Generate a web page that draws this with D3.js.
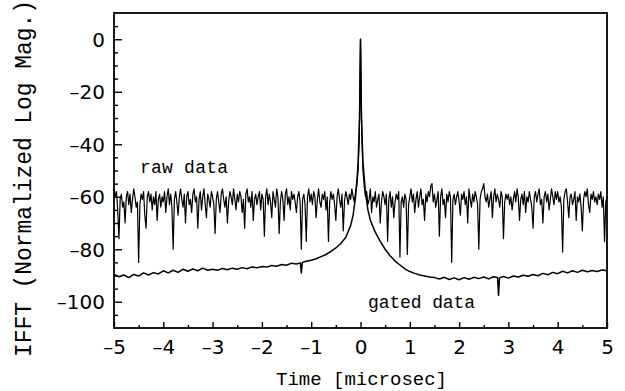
<!DOCTYPE html>
<html>
<head>
<meta charset="utf-8">
<script src="https://cdn.jsdelivr.net/npm/d3@7"></script>
<style>
  body { margin: 0; background: #fff; }
  svg { display: block; }
</style>
</head>
<body>
<div id="chart"></div>
<script>
// raw data: sampled every 0.025 microsec from -5 to 5 (one row per microsec)
const rawStart = -5;
const rawStep = 0.025;
const rawLevel = [
  -57, -60, -58, -65, -76, -61, -59, -64, -62, -70, -60, -58, -63, -59, -66, -61, -57, -60, -64, -62,
  -85, -63, -59, -61, -58, -67, -72, -60, -58, -62, -59, -65, -60, -63, -58, -69, -61, -59, -64, -60,
  -62, -58, -66, -60, -57, -63, -59, -64, -80, -61, -58, -62, -67, -60, -57, -61, -64, -59, -70, -60,
  -58, -63, -61, -66, -59, -57, -62, -60, -72, -61, -58, -65, -60, -57, -63, -68, -59, -61, -64, -58,
  -60, -63, -74, -61, -58, -62, -66, -59, -57, -61, -64, -60, -70, -62, -58, -60, -63, -57, -61, -65,
  -59, -62, -58, -60, -66, -61, -72, -59, -57, -62, -60, -64, -58, -69, -61, -59, -63, -60, -58, -65,
  -59, -61, -75, -60, -57, -63, -59, -62, -68, -58, -61, -64, -57, -60, -74, -62, -58, -61, -69, -59,
  -57, -63, -60, -65, -58, -61, -59, -62, -66, -60, -58, -62, -80, -61, -59, -63, -77, -60, -57, -62,
  -59, -63, -58, -60, -68, -61, -57, -62, -64, -59, -61, -58, -65, -60, -77, -62, -58, -61, -59, -63,
  -69, -60, -57, -61, -64, -59, -73, -62, -58, -60, -63, -59, -61, -57, -60, -62, -58, -56, -50, -38,
  0, -36, -50, -56, -60, -58, -63, -61, -57, -66, -60, -62, -58, -64, -61, -59, -70, -62, -58, -60,
  -63, -59, -77, -61, -58, -64, -60, -68, -62, -59, -61, -58, -83, -62, -60, -64, -59, -61, -82, -63,
  -60, -57, -62, -59, -66, -61, -58, -64, -60, -57, -63, -61, -69, -59, -62, -58, -60, -56, -55, -62,
  -59, -64, -61, -58, -75, -60, -57, -63, -61, -68, -59, -62, -58, -60, -85, -61, -59, -63, -60, -58,
  -62, -67, -59, -61, -58, -63, -60, -70, -57, -61, -64, -59, -62, -58, -60, -63, -80, -61, -58, -57,
  -55, -60, -62, -59, -64, -61, -58, -68, -60, -57, -62, -59, -61, -64, -58, -60, -76, -62, -59, -61,
  -59, -63, -60, -65, -61, -58, -62, -57, -60, -69, -61, -59, -63, -58, -66, -60, -62, -58, -61, -64,
  -72, -60, -58, -62, -59, -57, -63, -61, -70, -60, -58, -62, -59, -65, -61, -57, -60, -63, -58, -61,
  -58, -62, -60, -64, -81, -61, -58, -57, -62, -68, -60, -59, -63, -61, -58, -69, -60, -62, -59, -64,
  -73, -61, -58, -60, -57, -63, -66, -59, -61, -58, -62, -60, -63, -59, -61, -58, -64, -60, -77, -62,
  -60
];

// gated data
const gatedTime = [
  -5, -4.9, -4.8, -4.7, -4.6, -4.5, -4.4, -4.3, -4.2, -4.1,
  -4, -3.9, -3.8, -3.7, -3.6, -3.5, -3.4, -3.3, -3.2, -3.1,
  -3, -2.9, -2.8, -2.7, -2.6, -2.5, -2.4, -2.3, -2.2, -2.1,
  -2, -1.9, -1.8, -1.7, -1.6, -1.5, -1.4, -1.3, -1.22, -1.2, -1.18, -1.1,
  -1, -0.9, -0.8, -0.7, -0.6, -0.5, -0.4, -0.3, -0.2, -0.15, -0.1, -0.05, -0.02,
  0, 0.02, 0.05, 0.1, 0.15, 0.2, 0.3, 0.4, 0.5, 0.6, 0.7, 0.8, 0.9,
  1, 1.1, 1.2, 1.3, 1.4, 1.5, 1.6, 1.7, 1.8, 1.9,
  2, 2.1, 2.2, 2.3, 2.4, 2.5, 2.6, 2.7, 2.78, 2.8, 2.82, 2.9,
  3, 3.1, 3.2, 3.3, 3.4, 3.5, 3.6, 3.7, 3.8, 3.9,
  4, 4.1, 4.2, 4.3, 4.4, 4.5, 4.6, 4.7, 4.8, 4.9, 5
];
const gatedLevel = [
  -89.5, -90.5, -89.8, -90.8, -89.6, -90.2, -89.0, -89.8, -88.9, -89.4,
  -88.2, -89.0, -88.0, -88.8, -87.6, -88.4, -87.5, -88.2, -87.2, -88.0,
  -87.6, -88.0, -87.3, -87.8, -87.2, -87.6, -87.0, -87.4, -86.7, -87.1,
  -86.6, -86.8, -86.2, -86.5, -85.8, -86.1, -85.3, -85.6, -85.2, -89.0, -85.0, -84.6,
  -84.2, -83.6, -82.8, -82.0, -80.8, -79.5, -77.8, -75.5, -71, -67, -60, -48, -30,
  0, -30, -47, -58, -65, -69, -73.5, -77, -80, -82.5, -84.5, -86, -87.5,
  -88.5, -89.2, -89.8, -90.2, -90.6, -90.8, -91.3, -90.7, -91.5, -90.9,
  -91.6, -90.8, -91.4, -90.7, -91.2, -90.6, -91.3, -90.5, -90.8, -97.5, -90.9, -90.4,
  -91.0, -90.2, -90.6, -89.9, -90.3, -89.6, -90.1, -89.2, -89.7, -88.8,
  -89.3, -88.4, -89.0, -88.2, -88.8, -88.0, -88.6, -88.1, -88.5, -87.9, -88.2
];

const xTicks = [-5, -4, -3, -2, -1, 0, 1, 2, 3, 4, 5];
const yTicks = [0, -20, -40, -60, -80, -100];

const width = 625, height = 391;
const margin = {top: 13, right: 18, bottom: 63, left: 114};
const iw = width - margin.left - margin.right;
const ih = height - margin.top - margin.bottom;

const svg = d3.select('#chart').append('svg')
  .attr('width', width)
  .attr('height', height);

const g = svg.append('g')
  .attr('transform', `translate(${margin.left},${margin.top})`);

const x = d3.scaleLinear().domain([-5, 5]).range([0, iw]);
const y = d3.scaleLinear().domain([-110, 10]).range([ih, 0]);

const fmt = (d) => d < 0 ? '\u2013' + Math.abs(d) : String(d);

// minor ticks
const xAxisMinor = d3.axisBottom(x)
  .tickValues(d3.range(-4.5, 5, 1))
  .tickSizeInner(-3).tickSizeOuter(0).tickFormat('');
const yAxisMinor = d3.axisLeft(y)
  .tickValues(d3.range(-105, 10, 5).filter((d) => d % 20 != 0))
  .tickSizeInner(-4).tickSizeOuter(0).tickFormat('');

g.append('g')
  .attr('class', 'axis')
  .attr('transform', `translate(0,${ih})`)
  .call(xAxisMinor);
g.append('g')
  .attr('class', 'axis')
  .call(yAxisMinor);

// major ticks
g.append('g')
  .attr('class', 'axis major x')
  .attr('transform', `translate(0,${ih})`)
  .call(d3.axisBottom(x).tickValues(xTicks).tickSizeInner(-6).tickSizeOuter(0).tickPadding(12).tickFormat(fmt));
g.append('g')
  .attr('class', 'axis major y')
  .call(d3.axisLeft(y).tickValues(yTicks).tickSizeInner(-8).tickSizeOuter(0).tickPadding(9).tickFormat(fmt));

g.selectAll('.axis .domain').remove();
g.selectAll('.axis line')
  .attr('stroke', '#000')
  .attr('stroke-width', 1.4);
g.selectAll('.axis text')
  .attr('fill', '#000')
  .style('font-family', 'DejaVu Sans, sans-serif')
  .style('font-size', '20px');
g.selectAll('.axis.y text').attr('dy', '0.36em');
g.selectAll('.axis.x text').attr('dy', '0.72em');

// frame
g.append('rect')
  .attr('x', 0).attr('y', 0)
  .attr('width', iw).attr('height', ih)
  .attr('fill', 'none')
  .attr('stroke', '#000')
  .attr('stroke-width', 1.8);

// lines
const rawLine = d3.line()
  .x((d, i) => x(rawStart + i * rawStep))
  .y((d) => y(d));
const gatedLine = d3.line()
  .x((d, i) => x(gatedTime[i]))
  .y((d) => y(d));

g.append('path')
  .datum(rawLevel)
  .attr('d', rawLine)
  .attr('fill', 'none')
  .attr('stroke', '#000')
  .attr('stroke-width', 1.2)
  .attr('stroke-linejoin', 'round');

g.append('path')
  .datum(gatedLevel)
  .attr('d', gatedLine)
  .attr('fill', 'none')
  .attr('stroke', '#000')
  .attr('stroke-width', 1.5)
  .attr('stroke-linejoin', 'round');

// annotations
svg.append('text')
  .attr('x', 140).attr('y', 173)
  .text('raw data')
  .attr('textLength', 88)
  .style('font-family', 'Liberation Mono, monospace')
  .style('font-size', '18px');

svg.append('text')
  .attr('x', 368).attr('y', 308)
  .text('gated data')
  .attr('textLength', 107)
  .style('font-family', 'Liberation Mono, monospace')
  .style('font-size', '18px');

// axis titles
svg.append('text')
  .attr('x', 276).attr('y', 385)
  .text('Time [microsec]')
  .attr('textLength', 171)
  .style('font-family', 'Liberation Mono, monospace')
  .style('font-size', '19px');

svg.append('text')
  .attr('transform', 'translate(31,357) rotate(-90)')
  .text('IFFT (Normalized Log Mag.)')
  .attr('textLength', 357)
  .style('font-family', 'Liberation Mono, monospace')
  .style('font-size', '23px');
</script>
</body>
</html>
